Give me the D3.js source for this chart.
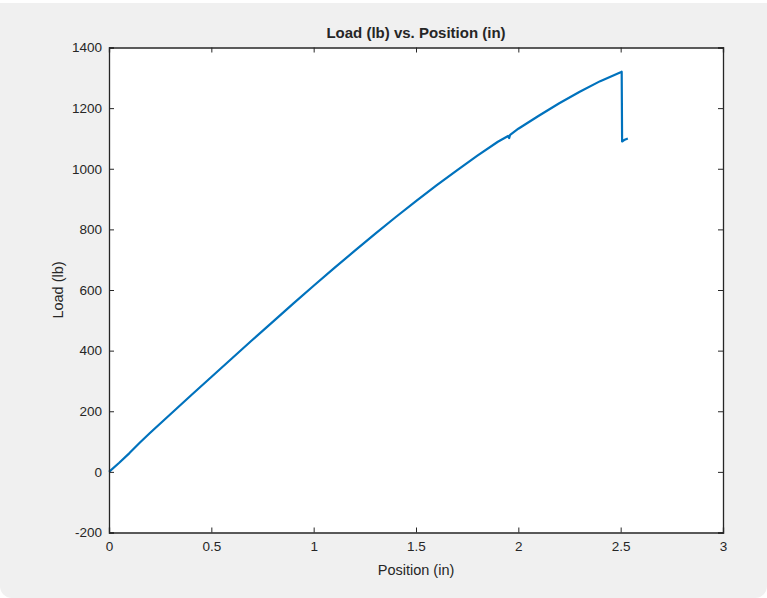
<!DOCTYPE html>
<html>
<head>
<meta charset="utf-8">
<script src="https://cdn.jsdelivr.net/npm/d3@7"></script>
<style>
  html, body { margin: 0; padding: 0; background: #fff; }
  #fig { position: absolute; left: 0; top: 3px; width: 767px; height: 595px;
         background: #f0f0f0; border-bottom-left-radius: 12px; border-bottom-right-radius: 12px; }
  svg { position: absolute; left: 0; top: 0; }
  text { font-family: "Liberation Sans", Arial, Helvetica, sans-serif; fill: #262626; }
</style>
</head>
<body>
<div id="fig"></div>
<svg width="767" height="598"></svg>
<script>
// data
var position = [0, 0.05, 0.1, 0.15, 0.2, 0.3, 0.4, 0.5, 0.6, 0.7, 0.8, 0.9,
                1.0, 1.1, 1.2, 1.3, 1.4, 1.5, 1.6, 1.7, 1.8, 1.9, 1.95, 1.955, 1.96,
                2.0, 2.1, 2.2, 2.3, 2.4, 2.5, 2.505, 2.507, 2.52, 2.535];
var load = [0, 30, 62, 96, 128, 190, 252, 313, 374, 435, 495, 555,
            614, 672, 729, 785, 840, 893, 945, 995, 1043, 1089, 1108, 1101, 1112,
            1132, 1175, 1216, 1254, 1289, 1318, 1320, 1090, 1096, 1100];
var xTicks = [0, 0.5, 1, 1.5, 2, 2.5, 3];
var yTicks = [-200, 0, 200, 400, 600, 800, 1000, 1200, 1400];

var svg = d3.select("svg");
var padL = 109, padR = 723, padT = 47.5, padB = 532.5;

var x = d3.scaleLinear().domain([0, 3]).range([padL, padR]);
var y = d3.scaleLinear().domain([-200, 1400]).range([padB, padT]);

// axes box
svg.append("rect")
    .attr("x", padL).attr("y", padT)
    .attr("width", padR - padL).attr("height", padB - padT)
    .attr("fill", "#fff");

// data line
var line = d3.line()
    .x(function(d, i) { return x(position[i]); })
    .y(function(d, i) { return y(load[i]); });

svg.append("path")
    .datum(load)
    .attr("d", line)
    .attr("fill", "none")
    .attr("stroke", "#0072BD")
    .attr("stroke-width", 2.2)
    .attr("stroke-linejoin", "round");

// axes, ticks inward
var xAxis = d3.axisBottom(x).tickValues(xTicks).tickSize(-5).tickPadding(9)
    .tickFormat(function(d) { return d; });
var yAxis = d3.axisLeft(y).tickValues(yTicks).tickSize(-5).tickPadding(7)
    .tickFormat(function(d) { return d; });

var gx = svg.append("g").attr("transform", "translate(0," + padB + ")").call(xAxis);
var gy = svg.append("g").attr("transform", "translate(" + padL + ",0)").call(yAxis);
var gxt = svg.append("g").attr("transform", "translate(0," + padT + ")")
    .call(d3.axisTop(x).tickValues(xTicks).tickSize(-5).tickFormat(""));
var gyr = svg.append("g").attr("transform", "translate(" + padR + ",0)")
    .call(d3.axisRight(y).tickValues(yTicks).tickSize(-5).tickFormat(""));

[gx, gy, gxt, gyr].forEach(function(g) {
  g.select(".domain").attr("stroke", "#262626").attr("stroke-width", 1.3);
  g.selectAll(".tick line").attr("stroke", "#262626");
  g.selectAll(".tick text")
      .style("font-family", "'Liberation Sans', Arial, sans-serif")
      .style("font-size", "13.5px")
      .attr("fill", "#262626");
});

// title and labels
svg.append("text")
    .attr("x", (padL + padR) / 2).attr("y", 38)
    .attr("text-anchor", "middle")
    .style("font-size", "15px").style("font-weight", "bold")
    .text("Load (lb) vs. Position (in)");

svg.append("text")
    .attr("x", (padL + padR) / 2).attr("y", 575)
    .attr("text-anchor", "middle")
    .style("font-size", "14.5px")
    .text("Position (in)");

svg.append("text")
    .attr("transform", "translate(63," + (padT + padB) / 2 + ") rotate(-90)")
    .attr("text-anchor", "middle")
    .style("font-size", "14.5px")
    .text("Load (lb)");
</script>
</body>
</html>
